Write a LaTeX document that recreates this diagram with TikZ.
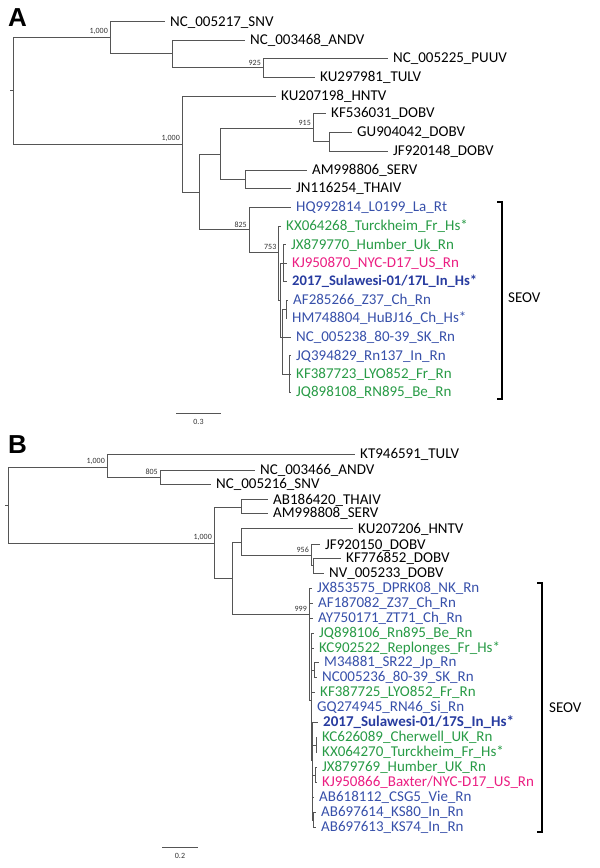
\documentclass[tikz,border=0pt]{standalone}
\usepackage{fontspec}
\setmainfont{Carlito}
\newfontfamily\panelfont{Liberation Sans}
\usetikzlibrary{positioning}
\definecolor{seoblue}{RGB}{55,80,170}
\definecolor{seogreen}{RGB}{40,155,70}
\definecolor{seopink}{RGB}{235,30,130}
\definecolor{seonavy}{RGB}{40,60,160}
\definecolor{brgray}{RGB}{85,85,85}
\newcommand\leaffont{\fontsize{15pt}{17pt}\selectfont}
\newcommand\bootfont{\fontsize{8pt}{9pt}\selectfont}

\begin{document}
\begin{tikzpicture}[x=1pt,y=-1pt,
  br/.style={draw=brgray,line width=0.8pt},
  leaf/.style={anchor=west,inner xsep=5pt,inner ysep=0pt,text height=10.5pt,text depth=1.5pt,font={\leaffont}},
  boot/.style={anchor=south east,inner sep=0pt,xshift=-2pt,yshift=2pt,font={\bootfont},text=black!80},
  panel/.style={anchor=west,inner sep=0pt,font={\fontsize{26pt}{28pt}\panelfont\bfseries}},
  bracket/.style={draw=black,line width=1.3pt},
  sbar/.style={font={\bootfont},text=black!80}]
\useasboundingbox (0,0) rectangle (600,868);

% panel A
\node[panel] (lA) at (8,18) {A};
\coordinate (rA0) at (10,90.5);
\coordinate (rA) at (13,90.5);
\coordinate (a1) at (110,37);
\coordinate (a2) at (172,53.5);
\coordinate (a3) at (263,67.5);
\coordinate (a4) at (182,144);
\coordinate (a5) at (199,192);
\coordinate (a6) at (220,154);
\coordinate (a7) at (313,128);
\coordinate (a8) at (329,141.5);
\coordinate (a9) at (245,179);
\coordinate (a10) at (249,229.5);
\coordinate (a11) at (278.5,252);
\coordinate (a12) at (280,300);
\coordinate (a13) at (283.5,263);
\coordinate (a14) at (282,337);
\coordinate (a15) at (286,309);
\coordinate (a16) at (289,374);
\node[leaf] (tSNV) at (165,21.7) {NC\_005217\_SNV};
\node[leaf] (tANDV) at (245,40) {NC\_003468\_ANDV};
\node[leaf] (tPUUV) at (388,58) {NC\_005225\_PUUV};
\node[leaf] (tTULV) at (315,77) {KU297981\_TULV};
\node[leaf] (tHNTV) at (276,96) {KU207198\_HNTV};
\node[leaf] (tKF5) at (326,113) {KF536031\_DOBV};
\node[leaf] (tGU) at (352,132) {GU904042\_DOBV};
\node[leaf] (tJF) at (388,151) {JF920148\_DOBV};
\node[leaf] (tSERV) at (307,170) {AM998806\_SERV};
\node[leaf] (tTHAI) at (291,188) {JN116254\_THAIV};
\node[leaf,text=seoblue] (tHQ) at (291,207) {HQ992814\_L0199\_La\_Rt};
\node[leaf,text=seogreen] (tKX) at (281,226) {KX064268\_Turckheim\_Fr\_Hs*};
\node[leaf,text=seogreen] (tJX) at (286,244.5) {JX879770\_Humber\_Uk\_Rn};
\node[leaf,text=seopink] (tKJ) at (287,263) {KJ950870\_NYC-D17\_US\_Rn};
\node[leaf,text=seonavy,font={\fontsize{14.6pt}{17pt}\selectfont\bfseries}] (tSUL) at (287,281) {2017\_Sulawesi-01/17L\_In\_Hs*};
\node[leaf,text=seoblue] (tAF) at (288,300) {AF285266\_Z37\_Ch\_Rn};
\node[leaf,text=seoblue] (tHM) at (287,318) {HM748804\_HuBJ16\_Ch\_Hs*};
\node[leaf,text=seoblue] (tNC) at (291,337) {NC\_005238\_80-39\_SK\_Rn};
\node[leaf,text=seoblue] (tJQ3) at (291,355.5) {JQ394829\_Rn137\_In\_Rn};
\node[leaf,text=seogreen] (tKF3) at (291,374) {KF387723\_LYO852\_Fr\_Rn};
\node[leaf,text=seogreen] (tJQ8) at (291,392) {JQ898108\_RN895\_Be\_Rn};
\draw[br] (rA0) -- (rA);
\draw[br] (rA) |- (a1);
\draw[br] (rA) |- (a4);
\draw[br] (a1) |- (tSNV.west);
\draw[br] (a1) |- (a2);
\draw[br] (a2) |- (tANDV.west);
\draw[br] (a2) |- (a3);
\draw[br] (a3) |- (tPUUV.west);
\draw[br] (a3) |- (tTULV.west);
\draw[br] (a4) |- (tHNTV.west);
\draw[br] (a4) |- (a5);
\draw[br] (a5) |- (a6);
\draw[br] (a5) |- (a10);
\draw[br] (a6) |- (a7);
\draw[br] (a6) |- (a9);
\draw[br] (a7) |- (tKF5.west);
\draw[br] (a7) |- (a8);
\draw[br] (a8) |- (tGU.west);
\draw[br] (a8) |- (tJF.west);
\draw[br] (a9) |- (tSERV.west);
\draw[br] (a9) |- (tTHAI.west);
\draw[br] (a10) |- (tHQ.west);
\draw[br] (a10) |- (a11);
\draw[br] (a11) |- (tKX.west);
\draw[br] (a11) |- (a12);
\draw[br] (a12) |- (a13);
\draw[br] (a12) |- (a14);
\draw[br] (a13) |- (tJX.west);
\draw[br] (a13) |- (tKJ.west);
\draw[br] (a13) |- (tSUL.west);
\draw[br] (a14) |- (a15);
\draw[br] (a14) |- (tNC.west);
\draw[br] (a14) |- (a16);
\draw[br] (a15) |- (tAF.west);
\draw[br] (a15) |- (tHM.west);
\draw[br] (a16) |- (tJQ3.west);
\draw[br] (a16) |- (tKF3.west);
\draw[br] (a16) |- (tJQ8.west);
\node[boot] at (a1) {1,000};
\node[boot] at (a3) {925};
\node[boot] at (a4) {1,000};
\node[boot] at (a7) {915};
\node[boot] at (a10) {825};
\node[boot] at (a11) {753};
\draw[bracket] (497,202) -- (502,202) -- (502,399) -- (497,399);
\node[leaf,inner xsep=0pt] (sA) at (508,298) {SEOV};
\draw[br] (176,413) -- (221,413) node[sbar,midway,below=3pt] (sbA) {0.3};

% panel B
\node[panel] (lB) at (8,445) {B};
\coordinate (rB0) at (5,505);
\coordinate (rB) at (8,505);
\coordinate (b1) at (107,467);
\coordinate (b2) at (160,477);
\coordinate (b3) at (214,543);
\coordinate (b4) at (241,507);
\coordinate (b5) at (232,578);
\coordinate (b6) at (241,542);
\coordinate (b7) at (311,555);
\coordinate (b8) at (313,565.5);
\coordinate (b9) at (309,614);
\coordinate (c1) at (311,700);
\coordinate (c2) at (314,670);
\coordinate (c3) at (312,760);
\coordinate (c4) at (316,745);
\coordinate (c5) at (315,775);
\coordinate (c6) at (313,820);
\node[leaf] (uTULV) at (355,454) {KT946591\_TULV};
\node[leaf] (uANDV) at (255,470) {NC\_003466\_ANDV};
\node[leaf] (uSNV) at (211,484) {NC\_005216\_SNV};
\node[leaf] (uTHAI) at (268,499.5) {AB186420\_THAIV};
\node[leaf] (uSERV) at (268,513) {AM998808\_SERV};
\node[leaf] (uHNTV) at (353,528.5) {KU207206\_HNTV};
\node[leaf] (uJF) at (320,544.5) {JF920150\_DOBV};
\node[leaf] (uKF) at (341,558) {KF776852\_DOBV};
\node[leaf] (uNV) at (324,573) {NV\_005233\_DOBV};
\node[leaf,text=seoblue] (uJX8) at (312,588) {JX853575\_DPRK08\_NK\_Rn};
\node[leaf,text=seoblue] (uAF) at (313,603) {AF187082\_Z37\_Ch\_Rn};
\node[leaf,text=seoblue] (uAY) at (313,618) {AY750171\_ZT71\_Ch\_Rn};
\node[leaf,text=seogreen] (uJQ) at (314,633) {JQ898106\_Rn895\_Be\_Rn};
\node[leaf,text=seogreen] (uKC9) at (314,648) {KC902522\_Replonges\_Fr\_Hs*};
\node[leaf,text=seoblue] (uM3) at (319,662) {M34881\_SR22\_Jp\_Rn};
\node[leaf,text=seoblue] (uNC) at (317,677) {NC005236\_80-39\_SK\_Rn};
\node[leaf,text=seogreen] (uKF7) at (315,692) {KF387725\_LYO852\_Fr\_Rn};
\node[leaf,text=seoblue] (uGQ) at (312,707) {GQ274945\_RN46\_Si\_Rn};
\node[leaf,text=seonavy,font={\leaffont\bfseries}] (uSUL) at (318,722) {2017\_Sulawesi-01/17S\_In\_Hs*};
\node[leaf,text=seogreen] (uKC6) at (317,737) {KC626089\_Cherwell\_UK\_Rn};
\node[leaf,text=seogreen] (uKX) at (317,752) {KX064270\_Turckheim\_Fr\_Hs*};
\node[leaf,text=seogreen] (uJX7) at (317,767) {JX879769\_Humber\_UK\_Rn};
\node[leaf,text=seopink] (uKJ) at (317,782) {KJ950866\_Baxter/NYC-D17\_US\_Rn};
\node[leaf,text=seoblue] (uAB6) at (314,797) {AB618112\_CSG5\_Vie\_Rn};
\node[leaf,text=seoblue] (uAB4) at (316,812) {AB697614\_KS80\_In\_Rn};
\node[leaf,text=seoblue] (uAB3) at (316,827) {AB697613\_KS74\_In\_Rn};
\draw[br] (rB0) -- (rB);
\draw[br] (rB) |- (b1);
\draw[br] (rB) |- (b3);
\draw[br] (b1) |- (uTULV.west);
\draw[br] (b1) |- (b2);
\draw[br] (b2) |- (uANDV.west);
\draw[br] (b2) |- (uSNV.west);
\draw[br] (b3) |- (b4);
\draw[br] (b3) |- (b5);
\draw[br] (b4) |- (uTHAI.west);
\draw[br] (b4) |- (uSERV.west);
\draw[br] (b5) |- (b6);
\draw[br] (b5) |- (b9);
\draw[br] (b6) |- (uHNTV.west);
\draw[br] (b6) |- (b7);
\draw[br] (b7) |- (uJF.west);
\draw[br] (b7) |- (b8);
\draw[br] (b8) |- (uKF.west);
\draw[br] (b8) |- (uNV.west);
\draw[br] (b9) |- (uJX8.west);
\draw[br] (b9) |- (uAF.west);
\draw[br] (b9) |- (uAY.west);
\draw[br] (b9) |- (c1);
\draw[br] (c1) |- (uJQ.west);
\draw[br] (c1) |- (uKC9.west);
\draw[br] (c1) |- (c2);
\draw[br] (c1) |- (uKF7.west);
\draw[br] (c1) |- (uGQ.west);
\draw[br] (c1) |- (c3);
\draw[br] (c2) |- (uM3.west);
\draw[br] (c2) |- (uNC.west);
\draw[br] (c3) |- (uSUL.west);
\draw[br] (c3) |- (c4);
\draw[br] (c3) |- (c5);
\draw[br] (c3) |- (uAB6.west);
\draw[br] (c3) |- (c6);
\draw[br] (c4) |- (uKC6.west);
\draw[br] (c4) |- (uKX.west);
\draw[br] (c5) |- (uJX7.west);
\draw[br] (c5) |- (uKJ.west);
\draw[br] (c6) |- (uAB4.west);
\draw[br] (c6) |- (uAB3.west);
\node[boot] at (b1) {1,000};
\node[boot] at (b2) {805};
\node[boot] at (b3) {1,000};
\node[boot] at (b7) {956};
\node[boot] at (b9) {999};
\draw[bracket] (537,583) -- (542,583) -- (542,832) -- (537,832);
\node[leaf,inner xsep=0pt] (sB) at (549,708) {SEOV};
\draw[br] (162,847) -- (198,847) node[sbar,midway,below=3pt] (sbB) {0.2};
\end{tikzpicture}
\end{document}
